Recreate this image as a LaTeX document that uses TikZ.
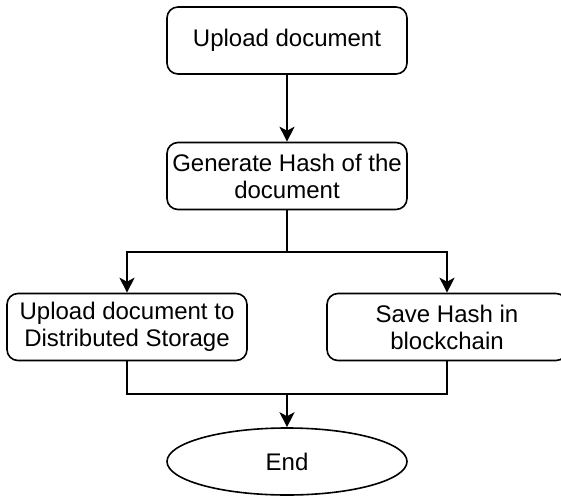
\documentclass[tikz,border=0pt]{standalone}
\usepackage{fontspec}
\setmainfont{Liberation Sans}
\usetikzlibrary{arrows.meta,shapes.geometric}
\begin{document}
\begin{tikzpicture}[x=1pt,y=-1pt,
  box/.style={draw,rounded corners=11pt,line width=1.6pt,minimum width=240pt,minimum height=67pt,align=center,inner sep=0pt,font=\fontsize{24}{27}\selectfont},
  endnode/.style={draw,ellipse,line width=1.6pt,minimum width=240pt,minimum height=67pt,inner sep=0pt,font=\fontsize{24}{27}\selectfont},
  conn/.style={line width=1.6pt},
  arr/.style={conn,-{Stealth[length=15pt,width=15pt,inset=4pt]}}]
\useasboundingbox (0,0) rectangle (561,497);
\node[box] (up) at (287,40.5) {Upload document};
\node[box] (gen) at (287,176) {Generate Hash of the\\document};
\node[box] (dist) at (127,327) {Upload document to\\Distributed Storage};
\node[box] (save) at (447,327) {Save Hash in\\blockchain};
\node[endnode] (end) at (287,461.5) {End};
\coordinate (j1) at (287,252);
\coordinate (j2) at (287,394);
\draw[arr] (up) -- (gen);
\draw[conn] (gen) -- (j1);
\draw[arr] (j1) -| (dist);
\draw[arr] (j1) -| (save);
\draw[conn] (dist) |- (j2);
\draw[conn] (save) |- (j2);
\draw[arr] (j2) -- (end);
\end{tikzpicture}
\end{document}
